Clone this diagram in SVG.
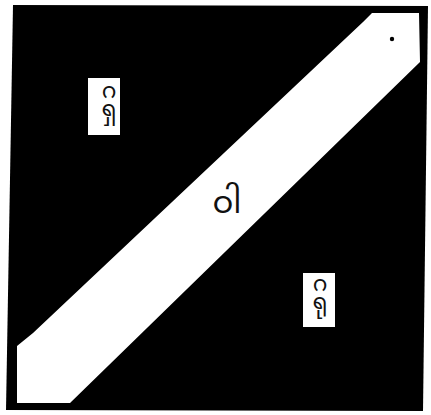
<svg xmlns="http://www.w3.org/2000/svg" width="431" height="415" viewBox="0 0 431 415">
  <style>
    .lbl { fill: #ffffff; stroke: none; }
    .txt { font-family: "Noto Sans Myanmar", "Padauk", "Myanmar Text", "Noto Sans", "DejaVu Sans", sans-serif; fill: #111111; text-anchor: middle; }
    .vt { font-family: "Noto Sans Myanmar", "Padauk", "Myanmar Text", "Noto Sans", "DejaVu Sans", sans-serif; fill: #111111; writing-mode: vertical-rl; text-orientation: upright; text-anchor: start; letter-spacing: -30px; }
  </style>
  <rect x="0" y="0" width="431" height="415" fill="#ffffff"/>
  <g id="field">
    <polygon points="13,5 428,6 423,411 6,410" fill="#000000"/>
  </g>
  <g id="band">
    <polygon points="372,13 419,13 420,62 70,403 17,403 17,346 33,333 363,22" fill="#ffffff"/>
    <circle cx="392" cy="39" r="2.2" fill="#000000"/>
  </g>
  <g id="label-top">
    <rect class="lbl" x="88" y="78" width="32" height="57"/>
    <text class="vt" x="109" y="69" font-size="22">ဂရှ</text>
  </g>
  <g id="label-center">
    <text class="txt" x="227" y="213" font-size="31">ဝါ</text>
  </g>
  <g id="label-bottom">
    <rect class="lbl" x="303" y="273" width="32" height="54"/>
    <text class="vt" x="320" y="262" font-size="22">ဂရု</text>
  </g>
</svg>
